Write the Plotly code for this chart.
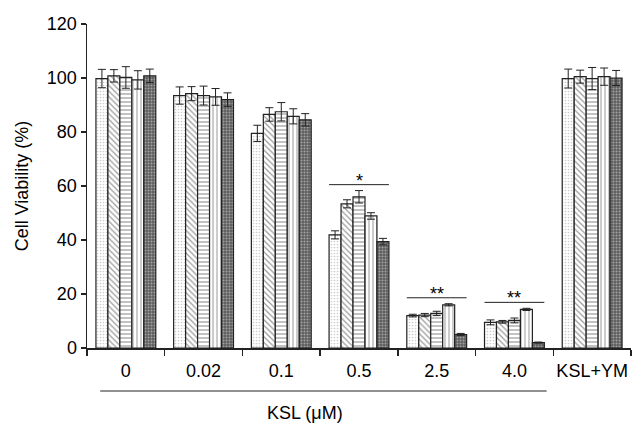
import plotly.graph_objects as go

categories = ["0", "0.02", "0.1", "0.5", "2.5", "4.0", "KSL+YM"]

s1 = [99.8, 93.5, 79.5, 41.9, 12.0, 9.5, 99.8]
s2 = [100.8, 94.2, 86.5, 53.4, 12.2, 9.7, 100.5]
s3 = [100.2, 93.5, 87.5, 56.0, 12.8, 10.2, 99.8]
s4 = [99.3, 93.0, 85.8, 48.9, 16.0, 14.3, 100.5]
s5 = [100.8, 92.0, 84.5, 39.4, 5.0, 2.0, 100.0]

e1 = [3.4, 3.2, 3.0, 1.5, 0.5, 0.9, 3.5]
e2 = [2.3, 2.6, 2.5, 1.5, 0.6, 0.5, 2.4]
e3 = [4.0, 3.5, 3.4, 2.3, 0.8, 0.9, 4.1]
e4 = [3.4, 3.1, 2.8, 1.2, 0.4, 0.4, 3.2]
e5 = [2.5, 2.5, 2.3, 1.2, 0.4, 0.2, 2.8]

sig_groups = ["0.5", "2.5", "4.0"]
sig_labels = ["*", "**", "**"]

y_ticks = [0, 20, 40, 60, 80, 100, 120]
x_title = "KSL (μM)"
y_title = "Cell Viability (%)"

FONT = "Arial, 'Liberation Sans', Helvetica, sans-serif"

series = [s1, s2, s3, s4, s5]
errors = [e1, e2, e3, e4, e5]
patterns = [
    dict(shape=".", fgcolor="#999999", bgcolor="white", size=3, solidity=0.25),
    dict(shape="\\", fgcolor="#333333", bgcolor="white", size=4, solidity=0.3),
    dict(shape="-", fgcolor="#333333", bgcolor="white", size=4, solidity=0.3),
    dict(shape="|", fgcolor="#333333", bgcolor="white", size=4, solidity=0.25),
    dict(shape=".", fgcolor="#e6e6e6", bgcolor="#5e5e5e", size=3, solidity=0.35),
]

fig = go.Figure()
for vals, errs, pat in zip(series, errors, patterns):
    fig.add_trace(go.Bar(
        x=categories, y=vals,
        marker=dict(color="white", line=dict(color="#222222", width=1.2), pattern=pat),
        error_y=dict(type="data", array=errs, visible=True, color="#222222",
                     thickness=1, width=4),
        showlegend=False, hoverinfo="skip",
    ))

n = len(categories)
half = 0.385
shapes = []
annotations = []
for g, lab in zip(sig_groups, sig_labels):
    i = categories.index(g)
    top = max(s[i] + e[i] for s, e in zip(series, errors))
    ly = top + 2.2
    shapes.append(dict(type="line", xref="x", yref="y", x0=i - half, x1=i + half,
                       y0=ly, y1=ly, line=dict(color="#222222", width=1)))
    annotations.append(dict(x=i, y=ly, xref="x", yref="y", text=lab, showarrow=False,
                            yanchor="bottom", yshift=-8,
                            font=dict(family=FONT, size=18, color="black")))

def cat_to_paper(v):
    return (v + 0.5) / n

# bracket under the KSL concentration groups
shapes.append(dict(type="line", xref="paper", yref="paper",
                   x0=cat_to_paper(-0.33), x1=cat_to_paper(5.415),
                   y0=-43 / 324, y1=-43 / 324, line=dict(color="#222222", width=1)))
annotations.append(dict(x=cat_to_paper(2.3), y=0, xref="paper", yref="paper",
                        text=x_title, showarrow=False, yanchor="middle", yshift=-65,
                        font=dict(family=FONT, size=18, color="black")))

fig.update_layout(
    width=632, height=425,
    margin=dict(l=87, r=1, t=24, b=77),
    plot_bgcolor="white", paper_bgcolor="white",
    barmode="group", bargap=0.23, bargroupgap=0,
    font=dict(family=FONT, size=18, color="black"),
    shapes=shapes, annotations=annotations,
    xaxis=dict(type="category", showline=True, linecolor="#222222", linewidth=1.5,
               ticks="outside", tickson="boundaries", ticklen=6, tickcolor="#222222",
               tickwidth=1.5, showgrid=False, tickfont=dict(size=18), tickangle=0,
               ticklabelstandoff=6, automargin=False),
    yaxis=dict(range=[0, 120], tickvals=y_ticks, showline=True, linecolor="#222222",
               linewidth=1.5, ticks="outside", ticklen=5, tickcolor="#222222",
               tickwidth=1.5, showgrid=False, zeroline=False, tickfont=dict(size=18),
               automargin=False,
               title=dict(text=y_title, font=dict(size=18), standoff=13)),
)

fig.write_html("out.html", config={"displayModeBar": False, "staticPlot": True},
               post_script="document.body.style.margin='0';document.body.style.overflow='hidden';")
